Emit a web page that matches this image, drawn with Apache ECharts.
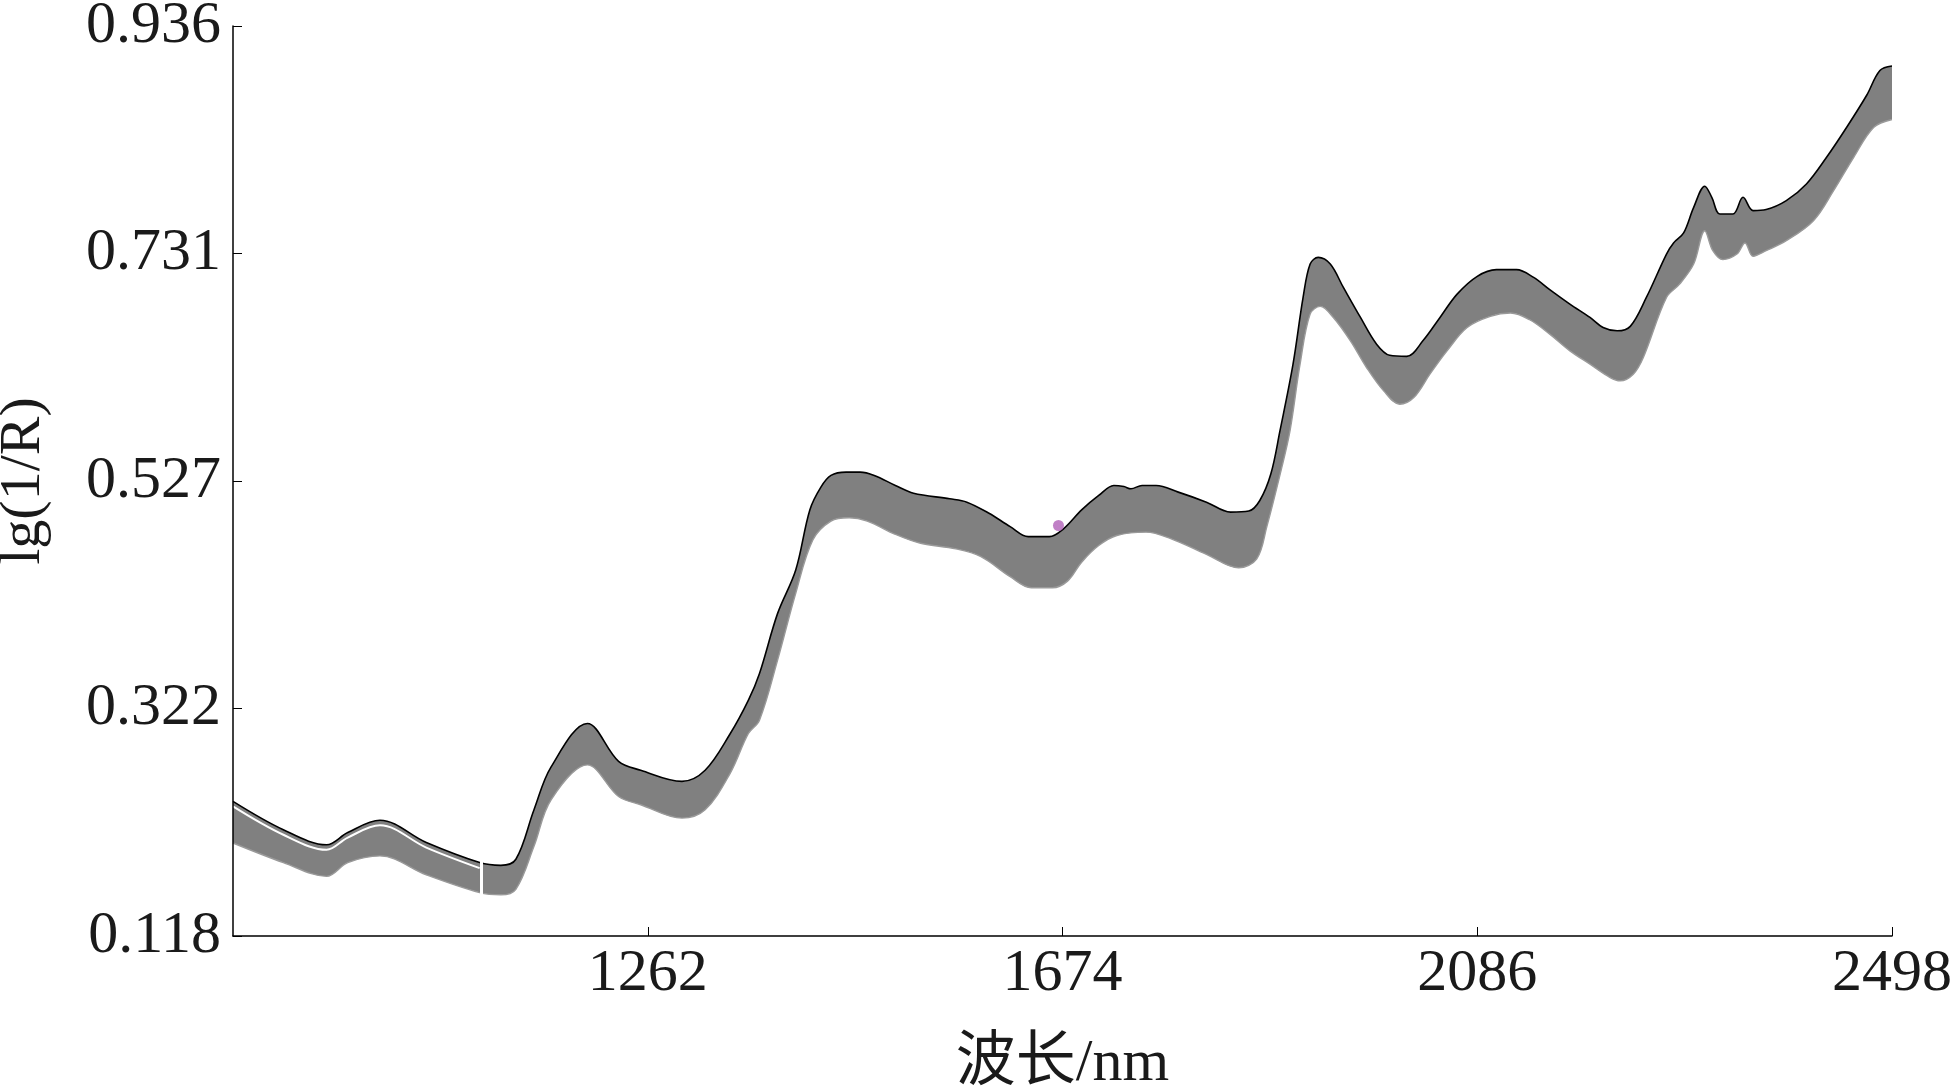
<!DOCTYPE html>
<html>
<head>
<meta charset="utf-8">
<script src="https://cdn.jsdelivr.net/npm/echarts@6/dist/echarts.min.js"></script>
<style>
  html, body { margin: 0; padding: 0; background: #ffffff; }
  #chart { width: 1950px; height: 1086px; }
</style>
</head>
<body>
<div id="chart"></div>
<script>
// ---- data (wavelength in nm, lg(1/R)) ----
// top edge of the spectra band (black spectrum)
const upperWavelengths = [850, 900, 943, 964, 996, 1042, 1095, 1116, 1131, 1149, 1166, 1202, 1233, 1255, 1296, 1319, 1344, 1362, 1373, 1391, 1409, 1423, 1434, 1444, 1459, 1473, 1487, 1508, 1526, 1562, 1579, 1601, 1622, 1640, 1661, 1675, 1693, 1710, 1725, 1735, 1742, 1753, 1767, 1789, 1817, 1841, 1859, 1870, 1881, 1890, 1903, 1913, 1920, 1928, 1940, 1953, 1970, 1986, 1999, 2016, 2032, 2049, 2066, 2086, 2105, 2125, 2142, 2158, 2178, 2198, 2211, 2225, 2238, 2254, 2274, 2281, 2291, 2301, 2312, 2319, 2327, 2340, 2350, 2360, 2373, 2393, 2413, 2433, 2453, 2473, 2486, 2498];
const upperValues = [0.239, 0.2135, 0.200, 0.211, 0.222, 0.202, 0.184, 0.1815, 0.187, 0.2315, 0.270, 0.309, 0.275, 0.267, 0.257, 0.267, 0.300, 0.330, 0.354, 0.408, 0.447, 0.501, 0.5215, 0.532, 0.535, 0.535, 0.532, 0.523, 0.516, 0.511, 0.508, 0.498, 0.486, 0.477, 0.477, 0.484, 0.501, 0.514, 0.523, 0.522, 0.520, 0.523, 0.523, 0.517, 0.508, 0.499, 0.500, 0.5095, 0.5335, 0.572, 0.632, 0.692, 0.722, 0.728, 0.722, 0.701, 0.674, 0.650, 0.640, 0.639, 0.653, 0.674, 0.695, 0.711, 0.717, 0.717, 0.710, 0.699, 0.686, 0.674, 0.665, 0.662, 0.666, 0.692, 0.731, 0.741, 0.750, 0.773, 0.792, 0.782, 0.767, 0.767, 0.782, 0.770, 0.771, 0.779, 0.794, 0.818, 0.845, 0.874, 0.896, 0.900];

// top of the grey mass at the short-wave end, where a white gap separates it from the black spectrum
const leftBandWavelengths = [850, 900, 943, 964, 996, 1042, 1095];
const leftBandTopValues = [0.2345, 0.209, 0.1955, 0.2065, 0.2175, 0.1975, 0.179];

// bottom edge of the spectra band
const lowerWavelengths = [850, 900, 943, 964, 996, 1042, 1095, 1116, 1131, 1149, 1166, 1202, 1233, 1255, 1296, 1319, 1344, 1362, 1373, 1391, 1409, 1426, 1444, 1462, 1480, 1508, 1533, 1568, 1593, 1622, 1643, 1664, 1679, 1693, 1710, 1728, 1757, 1782, 1817, 1849, 1867, 1877, 1891, 1900, 1910, 1920, 1930, 1943, 1960, 1976, 1993, 2009, 2023, 2039, 2056, 2076, 2099, 2119, 2138, 2158, 2178, 2198, 2218, 2228, 2241, 2251, 2274, 2287, 2301, 2312, 2320, 2330, 2344, 2352, 2360, 2373, 2393, 2420, 2440, 2460, 2480, 2498];
const lowerValues = [0.2016, 0.184, 0.1716, 0.184, 0.190, 0.173, 0.157, 0.155, 0.160, 0.1986, 0.2404, 0.2718, 0.2434, 0.236, 0.224, 0.2315, 0.2644, 0.300, 0.312, 0.366, 0.426, 0.474, 0.491, 0.494, 0.491, 0.479, 0.471, 0.466, 0.459, 0.441, 0.431, 0.431, 0.437, 0.454, 0.469, 0.478, 0.481, 0.475, 0.461, 0.449, 0.457, 0.486, 0.536, 0.572, 0.632, 0.677, 0.684, 0.674, 0.653, 0.629, 0.608, 0.596, 0.602, 0.623, 0.644, 0.665, 0.675, 0.678, 0.672, 0.659, 0.644, 0.632, 0.620, 0.617, 0.623, 0.638, 0.692, 0.704, 0.722, 0.752, 0.734, 0.726, 0.731, 0.741, 0.729, 0.734, 0.743, 0.761, 0.788, 0.818, 0.845, 0.852];

const markerPoint = [1670, 0.487];
const gapWavelength = 1097;
const gapRange = [0.152, 0.188];

const xTickValues = [1262, 1674, 2086, 2498];
const xTickLabels = ['1262', '1674', '2086', '2498'];
const yTickValues = [0.118, 0.3225, 0.527, 0.7315, 0.936];
const yTickLabels = ['0.118', '0.322', '0.527', '0.731', '0.936'];

// ---- build ----
const pairs = (ws, vs) => ws.map((w, i) => [w, vs[i]]);
const upperData = pairs(upperWavelengths, upperValues);
const lowerData = pairs(lowerWavelengths, lowerValues);
const leftBandData = pairs(leftBandWavelengths, leftBandTopValues);

function labelFor(values, labels) {
  return function (v) {
    let best = 0, bd = Infinity;
    values.forEach((t, i) => { const d = Math.abs(t - v); if (d < bd) { bd = d; best = i; } });
    return labels[best];
  };
}

const serif = "'Liberation Serif', 'DejaVu Serif', serif";
const SMOOTH = 0.35;
const chart = echarts.init(document.getElementById('chart'), null, { renderer: 'canvas' });
chart.setOption({
  backgroundColor: '#ffffff',
  animation: false,
  grid: { left: 233, right: 58, top: 26, bottom: 150, outerBoundsMode: 'none', containLabel: false },
  xAxis: {
    type: 'value', min: 850, max: 2498, z: 10,
    name: '波长/nm', nameLocation: 'middle', nameGap: 98,
    nameTextStyle: { fontFamily: "'Liberation Serif', 'Noto Sans CJK SC', serif", fontSize: 60, color: '#1a1a1a' },
    axisLine: { show: true, onZero: false, lineStyle: { color: '#000', width: 1.5 } },
    axisTick: { show: true, inside: true, length: 9, customValues: xTickValues, lineStyle: { color: '#000', width: 1 } },
    axisLabel: { customValues: xTickValues, formatter: labelFor(xTickValues, xTickLabels), margin: 8,
      fontFamily: serif, fontSize: 60, color: '#1a1a1a' },
    splitLine: { show: false }
  },
  yAxis: {
    type: 'value', min: 0.118, max: 0.936, z: 10,
    name: 'lg(1/R)', nameLocation: 'middle', nameGap: 180, nameRotate: 90,
    nameTextStyle: { fontFamily: serif, fontSize: 58, color: '#1a1a1a' },
    axisLine: { show: true, onZero: false, lineStyle: { color: '#000', width: 1.5 } },
    axisTick: { show: true, inside: true, length: 9, customValues: yTickValues, lineStyle: { color: '#000', width: 1 } },
    axisLabel: { customValues: yTickValues, formatter: labelFor(yTickValues, yTickLabels), margin: 12,
      fontFamily: serif, fontSize: 60, color: '#1a1a1a' },
    splitLine: { show: false }
  },
  series: [
    {
      name: 'bandTop', type: 'line', data: upperData, showSymbol: false, smooth: SMOOTH,
      lineStyle: { color: '#000', width: 1.6 },
      areaStyle: { color: '#808080', opacity: 1, origin: 'start' },
      z: 2
    },
    {
      name: 'leftGap', type: 'line', data: leftBandData, showSymbol: false, smooth: SMOOTH,
      lineStyle: { color: '#ffffff', width: 2 },
      z: 3
    },
    {
      name: 'bandBottom', type: 'line', data: lowerData, showSymbol: false, smooth: SMOOTH,
      lineStyle: { color: '#9a9a9a', width: 1.4 },
      areaStyle: { color: '#ffffff', opacity: 1, origin: 'start' },
      z: 4,
      markLine: {
        silent: true, symbol: 'none', label: { show: false },
        lineStyle: { color: '#ffffff', width: 3, type: 'solid' },
        data: [[{ coord: [gapWavelength, gapRange[0]] }, { coord: [gapWavelength, gapRange[1]] }]]
      }
    },
    {
      name: 'marker', type: 'scatter', data: [markerPoint], symbol: 'circle', symbolSize: 11,
      itemStyle: { color: '#b060b8' }, z: 5
    }
  ]
});
</script>
</body>
</html>
